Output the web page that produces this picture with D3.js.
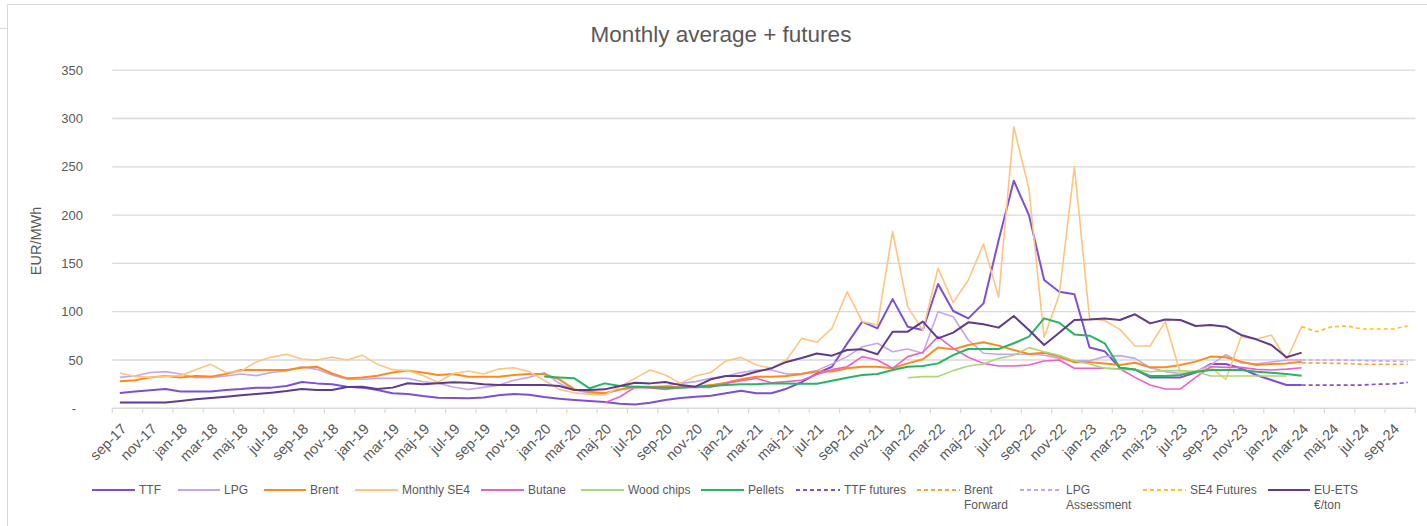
<!DOCTYPE html>
<html><head><meta charset="utf-8">
<script src="https://cdn.jsdelivr.net/npm/d3@7"></script>
<style>
html,body{margin:0;padding:0;background:#fff;}
svg{display:block;font-family:"Liberation Sans",Arial,sans-serif;}
</style></head>
<body>
<svg id="chart" width="1427" height="526"></svg>
<script>
// ---------- DATA ----------
const months = ["sep-17","okt-17","nov-17","dec-17","jan-18","feb-18","mar-18","apr-18","maj-18","jun-18","jul-18","aug-18",
"sep-18","okt-18","nov-18","dec-18","jan-19","feb-19","mar-19","apr-19","maj-19","jun-19","jul-19","aug-19",
"sep-19","okt-19","nov-19","dec-19","jan-20","feb-20","mar-20","apr-20","maj-20","jun-20","jul-20","aug-20",
"sep-20","okt-20","nov-20","dec-20","jan-21","feb-21","mar-21","apr-21","maj-21","jun-21","jul-21","aug-21",
"sep-21","okt-21","nov-21","dec-21","jan-22","feb-22","mar-22","apr-22","maj-22","jun-22","jul-22","aug-22",
"sep-22","okt-22","nov-22","dec-22","jan-23","feb-23","mar-23","apr-23","maj-23","jun-23","jul-23","aug-23",
"sep-23","okt-23","nov-23","dec-23","jan-24","feb-24","mar-24","apr-24","maj-24","jun-24","jul-24","aug-24",
"sep-24","okt-24"];
const yTicks = [0,50,100,150,200,250,300,350];

// from sep-17
const ttf = [15.8,17.5,18.6,20,17.5,17.5,17.5,19,20,21.4,21.4,23,27.2,25.8,24.8,22.4,21.4,19,15.5,14.8,12.7,11,10.7,10.5,
11.3,13.4,14.8,14,11.7,10,8.6,7.5,6.5,4.8,4,5.8,8.6,10.7,12,13,15.5,18.2,15.5,15.5,20.3,27,36,43,
67,89.7,82.8,113,84.5,81,128.7,100.7,93.1,108.6,174,235.6,200,132.8,120.7,118,63,59,42,40.3,32,32,32,36.9,45.9,45.9,41.4,34.5,29.3,24.1,24.1];
const lpg = [32,33.4,37,38,35.5,31.7,32,33.4,35.5,33.8,37,38.6,43,40.3,34.5,30,30,31,31,31,27.5,26,22,19.5,
21.7,24,29,32,36.9,25.8,19,16,15.5,19,21.7,22,23,25.8,27.6,31,33.4,36.9,39.6,39.6,35.5,36,39,46,
53.5,63.8,67.3,58.6,61.4,57,100,94.8,70.7,57,56,56,56,55,51.7,49.3,49.3,53.5,54.5,51.7,42,38,36,38,45,55.5,47,46,48,50,50];
const brent = [28,29,32,33.4,32,33.4,32.8,35.5,39.6,39.6,39.6,39.6,42,43,36,31,32,33.8,37,39,37,34.5,35.5,32.7,
32.7,32.7,34.5,35.5,35.5,30,19.6,17.2,15.5,19.6,22.4,22.4,22.4,21.7,22.4,24,26.5,30,32.7,32.7,33.4,35.5,38,38,
41.4,43,43,41.4,46.5,50.7,63,61,65.5,68.3,64.9,60.4,56.2,57.6,53.5,47.6,47.6,46.5,44.8,47.2,42.4,42.4,44.8,48.3,53.5,52.8,48.3,44.8,45.9,46.5,48.3];
const se4 = [36.5,33,32,33,34,40,45.5,37,38.5,48,53,56,51,50,53,50,55,45.5,40,39,34,27,36,38.6,
35.5,40.6,42,38,29,19.6,16,14.4,13.8,22.4,31,39.6,34.5,25.8,33.4,37,49,52.7,44.8,41.4,50,72.4,68.3,82.8,
120.7,89.7,86.3,182.9,105,80.4,144.9,109.4,132.8,170,115,291.5,227,73.5,117.3,250,93,90.7,81.7,64.5,64.5,89.7,36.2,38.6,42,30,74,71.4,75.9,50,84.5];
// from maj-20
const butane = [5.8,12,21.7,21,19.6,21.7,21.7,21.7,25.8,28.6,31,26.5,27.6,29,35,40,43,53.5,50,41.4,53.5,58,74.2,62,52.8,46.5,
43.8,43.8,44.8,49,50,41.4,41.4,41.4,41,32,24.1,20,20,32,43,42.4,42.4,40.3,39.6,40.6,42];
// from jan-22
const woodChips = [31.7,32.8,32.8,39,43.8,45.9,51.7,55,62.8,58.6,55,49.3,45.9,41.4,40.3,40,37.9,39,39,38,33.4,33.4,33.4,33.4,33.4,33.4];
// from jan-20
const pellets = [33,32,31,20.7,25.8,23,22.4,21.7,21.4,21.4,22.4,23,24,24.8,25,25.8,25.8,25.5,25.5,28.6,31.7,34.5,35.5,39.6,
43,43.8,46.5,55,61.4,61.4,61.4,67.3,74.2,93.1,88.6,76.5,75.2,67.3,42,40,33.4,33.4,34.5,37.9,39.6,39.6,39.6,37.9,36.9,35.5,33.7];
// from mar-24
const ttfFutures = [24.1,24,24,24,24,25,25.2,26.8];
const brentForward = [47.2,46.8,46.6,46.3,45.6,45.6,45.6,45.6];
const lpgAssessment = [50,50,50,49.8,49.5,49.2,48.8,48.4];
const se4Futures = [84.5,79.3,84.5,85.2,82.1,82.1,82.1,85.2];
// from sep-17
const euEts = [6.1,6.1,6.1,6.1,7.6,9.3,10.7,12,13.4,14.8,16.2,17.9,20,19,19,22,22.4,20,21.4,26,25,26,27,26.5,
24.8,24,24,24,24,23,19,19,19.6,23,26.5,25.8,27.2,24,22.4,30,33.4,33.4,37.9,41.4,48,52,56.8,54.5,
60.4,61,56,79.3,79.3,89.7,72.4,78.3,89,87,83.5,95.5,81,65.5,78.3,91.4,92,93,91.4,97.3,87.9,92,91.4,85.2,86.3,84.5,75.9,71.4,65.5,52.8,57.6];

const seriesNames = ["TTF","LPG","Brent","Monthly SE4","Butane","Wood chips","Pellets","TTF futures","Brent Forward","LPG Assessment","SE4 Futures","EU-ETS €/ton"];
const seriesData  = [ttf,lpg,brent,se4,butane,woodChips,pellets,ttfFutures,brentForward,lpgAssessment,se4Futures,euEts];
const seriesStart = ["sep-17","sep-17","sep-17","sep-17","maj-20","jan-22","jan-20","mar-24","mar-24","mar-24","mar-24","sep-17"];

// ---------- STYLE ----------
const styles = [
 {c:"#7d4fd6",w:2,d:null},
 {c:"#c3a6ef",w:1.6,d:null},
 {c:"#ff8a1c",w:2,d:null},
 {c:"#ffc47e",w:1.6,d:null},
 {c:"#ee5fc6",w:1.6,d:null},
 {c:"#a8d878",w:1.6,d:null},
 {c:"#27b463",w:2,d:null},
 {c:"#7d4fd6",w:1.7,d:"4,3"},
 {c:"#ffa03c",w:1.7,d:"4,3"},
 {c:"#c3a6ef",w:1.7,d:"4,3"},
 {c:"#ffc02a",w:1.7,d:"4,3"},
 {c:"#5e3b8e",w:2,d:null}
];
const legendLayout = [[92,139],[178,224],[264,310],[355,402],[481,528],[581,628],[701,748],[796,844],[917,964],[1020,1066],[1143,1190],[1268,1314]];

const svg = d3.select("#chart");
const L = 112.3, R = 1415.3, Y0 = 408.3, Y350 = 70.2;
const x = d3.scalePoint().domain(months).range([L,R]).padding(0.5);
const y = d3.scaleLinear().domain([0,350]).range([Y0,Y350]);
const txt = "#595959";

// outer border
svg.append("path").attr("d","M7.5,526 V4.5 H1427 M0,28.5 H7").attr("fill","none").attr("stroke","#d9d9d9");

// title
svg.append("text").attr("x",721).attr("y",42).attr("text-anchor","middle")
  .attr("font-size",22.5).attr("fill",txt).text("Monthly average + futures");

// gridlines
svg.append("g").selectAll("line").data(yTicks.filter(d=>d>0)).join("line")
  .attr("x1",L).attr("x2",R).attr("y1",d=>y(d)).attr("y2",d=>y(d))
  .attr("stroke","#d9d9d9").attr("stroke-width",1.3);

// y labels
svg.append("g").selectAll("text").data(yTicks).join("text")
  .attr("x",d=>d===0?76:83).attr("y",d=>y(d)).attr("dy","0.35em")
  .attr("text-anchor","end").attr("font-size",13).attr("fill",txt)
  .text(d=>d===0?"-":d);

svg.append("text").attr("transform","translate(41,241) rotate(-90)")
  .attr("text-anchor","middle").attr("font-size",14.5).attr("fill",txt).text("EUR/MWh");

// x axis
const step = x.step();
svg.append("line").attr("x1",L).attr("x2",R).attr("y1",Y0).attr("y2",Y0).attr("stroke","#d9d9d9").attr("stroke-width",1.5);
const tickIdx = d3.range(0, months.length+1, 2);
svg.append("g").selectAll("line").data(tickIdx).join("line")
  .attr("x1",i=>L+i*step).attr("x2",i=>L+i*step).attr("y1",Y0).attr("y2",Y0+5)
  .attr("stroke","#d9d9d9").attr("stroke-width",1.2);
const labelMonths = months.filter((m,i)=>i%2===0);
svg.append("g").selectAll("text").data(labelMonths).join("text")
  .attr("transform",m=>`translate(${x(m)+4},${Y0+18}) rotate(-45)`)
  .attr("text-anchor","end").attr("dy","0.35em").attr("font-size",14.5).attr("fill",txt).text(m=>m);

// lines
const line = d3.line().defined(d=>d.v!=null).x(d=>x(d.m)).y(d=>y(d.v));
seriesData.forEach((vals,k)=>{
  const s0 = months.indexOf(seriesStart[k]);
  const pts = vals.map((v,j)=>({m:months[s0+j],v}));
  const st = styles[k];
  svg.append("path").datum(pts).attr("d",line).attr("fill","none")
    .attr("stroke",st.c).attr("stroke-width",st.w).attr("stroke-linejoin","round")
    .attr("stroke-dasharray",st.d);
});

// legend
const lg = svg.append("g");
seriesNames.forEach((n,k)=>{
  const [lx,tx] = legendLayout[k], st = styles[k];
  lg.append("line").attr("x1",lx).attr("x2",tx-4).attr("y1",490).attr("y2",490)
    .attr("stroke",st.c).attr("stroke-width",2).attr("stroke-dasharray",st.d?"4,3":null);
  const words = n==="Brent Forward"?["Brent","Forward"]:n==="LPG Assessment"?["LPG","Assessment"]:n==="EU-ETS €/ton"?["EU-ETS","€/ton"]:[n];
  words.forEach((w,j)=>{
    lg.append("text").attr("x",tx).attr("y",490+j*15).attr("dy","0.35em")
      .attr("font-size",12).attr("fill",txt).text(w);
  });
});
</script>
</body></html>
